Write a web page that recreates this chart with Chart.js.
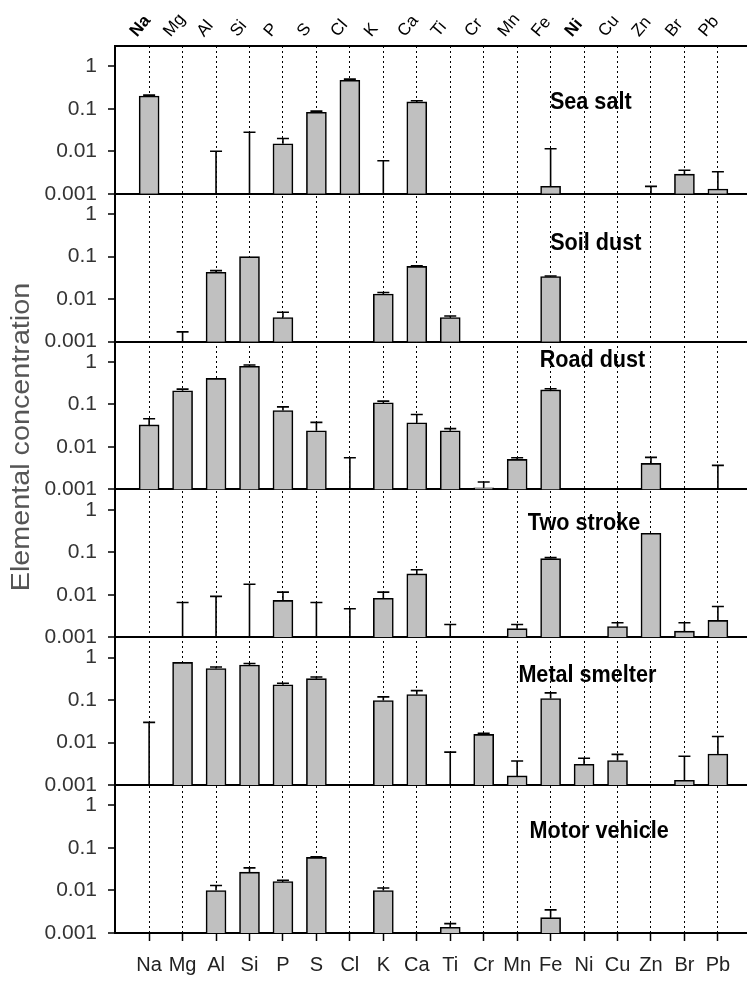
<!DOCTYPE html>
<html>
<head>
<meta charset="utf-8">
<script src="https://cdn.jsdelivr.net/npm/chart.js@4.4.0/dist/chart.umd.min.js"></script>
<style>
  html, body { margin: 0; padding: 0; background: #fff; }
  #wrap { width: 747px; height: 985px; }
</style>
</head>
<body>
<div id="wrap"><canvas id="profiles" width="747" height="985"></canvas></div>
<script>
// Element order along the x axis
const elements = ['Na','Mg','Al','Si','P','S','Cl','K','Ca','Ti','Cr','Mn','Fe','Ni','Cu','Zn','Br','Pb'];
const sources = ['Sea salt', 'Soil dust', 'Road dust', 'Two stroke', 'Metal smelter', 'Motor vehicle'];
const yTickValues = [0.001, 0.01, 0.1, 1];
const yTickLabels = ['0.001', '0.01', '0.1', '1'];

// Profile means (null = no bar) and upper error limits, per source
const seaSalt       = [0.2, null, null, null, 0.015, 0.083, 0.47, null, 0.145, null, null, null, 0.0015, null, null, null, 0.0029, 0.0013];
const seaSaltErr    = [0.21, null, 0.01, 0.028, 0.02, 0.088, 0.5, 0.006, 0.155, null, null, null, 0.0115, null, null, 0.0015, 0.0036, 0.0033];
const soilDust      = [null, null, 0.043, 0.1, 0.0037, null, null, 0.0132, 0.059, 0.0037, null, null, 0.034, null, null, null, null, null];
const soilDustErr   = [null, 0.0017, 0.047, null, 0.0049, null, null, 0.0143, 0.061, 0.004, null, null, 0.035, null, null, null, null, null];
const roadDust      = [0.033, 0.21, 0.41, 0.79, 0.072, 0.024, null, 0.11, 0.037, 0.024, 0.0011, 0.0051, 0.22, null, null, 0.0041, null, null];
const roadDustErr   = [0.046, 0.23, null, 0.85, 0.088, 0.038, 0.0056, 0.12, 0.058, 0.027, 0.0015, 0.0056, 0.235, null, null, 0.0057, null, 0.0037];
const twoStroke     = [null, null, null, null, 0.0074, null, null, 0.0083, 0.031, null, null, 0.0016, 0.071, null, 0.0018, 0.28, 0.0014, 0.0025];
const twoStrokeErr  = [null, 0.0066, 0.0092, 0.0177, 0.0116, 0.0066, 0.0047, 0.0116, 0.039, 0.002, null, 0.002, 0.075, null, 0.0022, null, 0.0022, 0.0053];
const smelter       = [null, 0.77, 0.555, 0.67, 0.23, 0.32, null, 0.098, 0.135, null, 0.0156, 0.00165, 0.109, 0.0031, 0.0038, null, 0.0013, 0.0054];
const smelterErr    = [0.03, null, 0.6, 0.73, 0.25, 0.35, null, 0.119, 0.167, 0.006, 0.0166, 0.0037, 0.148, 0.0043, 0.0053, null, 0.0048, 0.014];
const vehicle       = [null, null, 0.01, 0.027, 0.0162, 0.06, null, 0.01, null, 0.00136, null, null, 0.0023, null, null, null, null, null];
const vehicleErr    = [null, null, 0.0131, 0.034, 0.0174, 0.062, null, 0.0114, null, 0.00166, null, null, 0.0035, null, null, null, null, null];

const profiles = [seaSalt, soilDust, roadDust, twoStroke, smelter, vehicle];
const profileErrs = [seaSaltErr, soilDustErr, roadDustErr, twoStrokeErr, smelterErr, vehicleErr];

// where each panel caption sits: [x in element units, y in concentration units]
const captionAt = [[13.2, 0.14], [13.35, 0.2], [13.25, 1.1], [13.0, 0.48], [13.1, 0.38], [13.45, 0.24]];

const NARROW = "'Liberation Sans Narrow', 'Arial Narrow', 'Liberation Sans', Arial, sans-serif";

// error whiskers, panel captions and the shared y title
const decorations = {
  id: 'decorations',
  afterDatasetsDraw(chart) {
    const ctx = chart.ctx;
    ctx.save();
    ctx.strokeStyle = '#000';
    ctx.lineWidth = 1.6;
    chart.data.datasets.forEach((ds, k) => {
      const meta = chart.getDatasetMeta(k);
      const xs = meta.xScale, ys = meta.yScale;
      ds.errUpper.forEach((e, i) => {
        if (e == null) return;
        const x = xs.getPixelForValue(i);
        const v = profiles[k][i];
        const y0 = v == null ? ys.bottom : ys.getPixelForValue(v);
        const y1 = ys.getPixelForValue(e);
        ctx.beginPath();
        ctx.moveTo(x, y0);
        ctx.lineTo(x, y1);
        ctx.moveTo(x - 6, y1);
        ctx.lineTo(x + 6, y1);
        ctx.stroke();
      });

      // caption
      const [cx, cy] = captionAt[k];
      ctx.save();
      ctx.translate(xs.getPixelForValue(cx), ys.getPixelForValue(cy));
      ctx.scale(0.9, 1);
      ctx.font = 'bold 24px "Liberation Sans", Arial, sans-serif';
      ctx.fillStyle = '#000';
      ctx.textAlign = 'center';
      ctx.textBaseline = 'middle';
      ctx.fillText(ds.label, 0, 0);
      ctx.restore();
    });

    // y title
    ctx.save();
    ctx.translate(22, 437);
    ctx.rotate(-Math.PI / 2);
    ctx.scale(1.15, 1);
    ctx.font = '25px "Liberation Sans", Arial, sans-serif';
    ctx.fillStyle = '#555';
    ctx.textAlign = 'center';
    ctx.textBaseline = 'middle';
    ctx.fillText('Elemental concentration', 0, 0);
    ctx.restore();
    ctx.restore();
  }
};

const scales = {
  x: {
    type: 'linear', position: 'bottom', min: -1.02, max: 17.87, offset: false,
    afterBuildTicks: s => { s.ticks = elements.map((_, i) => ({ value: i })); },
    afterFit: s => { s.height = 52; s.paddingLeft = 0; s.paddingRight = 0; },
    grid: { offset: false, color: '#000', lineWidth: 1, tickColor: '#000', tickLength: 8, tickWidth: 1.5, tickBorderDash: [] },
    border: { display: true, color: '#000', width: 2, dash: [2, 3] },
    ticks: {
      autoSkip: false, maxRotation: 0, padding: 12, color: '#222',
      font: { family: NARROW, size: 20 },
      callback: (v, i) => elements[i]
    }
  },
  xTop: {
    type: 'linear', position: 'top', min: -1.02, max: 17.87, offset: false,
    afterBuildTicks: s => { s.ticks = elements.map((_, i) => ({ value: i })); },
    afterFit: s => { s.height = 46; s.paddingLeft = 0; s.paddingRight = 0; },
    grid: { display: false, drawTicks: false, offset: false },
    border: { display: true, color: '#000', width: 2 },
    ticks: {
      autoSkip: false, minRotation: 50, maxRotation: 50, padding: 5, color: '#000',
      font: c => ({ family: '"Liberation Sans", Arial, sans-serif', size: 17, weight: (c.index === 0 || c.index === 13) ? 'bold' : 'normal' }),
      callback: (v, i) => elements[i]
    }
  }
};

sources.forEach((name, k) => {
  scales['y' + k] = {
    type: 'logarithmic', position: 'left', stack: 'panels', stackWeight: 1, weight: 6 - k,
    min: 0.001, max: 3,
    afterBuildTicks: s => { s.ticks = yTickValues.map(v => ({ value: v })); },
    afterFit: s => { s.width = 115; s.paddingTop = 0; s.paddingBottom = 0; },
    grid: {
      drawOnChartArea: true,
      color: c => (c.tick && c.tick.value === 0.001) ? '#000' : 'rgba(0,0,0,0)',
      lineWidth: 2, tickColor: '#000', tickLength: 7, tickWidth: 1.5
    },
    border: { display: true, color: '#000', width: 2 },
    ticks: {
      autoSkip: false, padding: 11, color: '#333',
      font: { family: NARROW, size: 21 },
      callback: (v, i) => yTickLabels[i]
    }
  };
});

new Chart(document.getElementById('profiles'), {
  type: 'bar',
  data: {
    datasets: sources.map((name, k) => ({
      label: name,
      data: profiles[k].map((v, i) => ({ x: i, y: v })),
      errUpper: profileErrs[k],
      xAxisID: 'x',
      yAxisID: 'y' + k,
      backgroundColor: '#c0c0c0',
      borderColor: '#000',
      borderWidth: 1.6,
      barThickness: 20,
      grouped: false
    }))
  },
  options: {
    responsive: false,
    animation: false,
    devicePixelRatio: 1,
    layout: { padding: 0 },
    plugins: { legend: { display: false }, tooltip: { enabled: false } },
    scales: scales
  },
  plugins: [decorations]
});
</script>
</body>
</html>
